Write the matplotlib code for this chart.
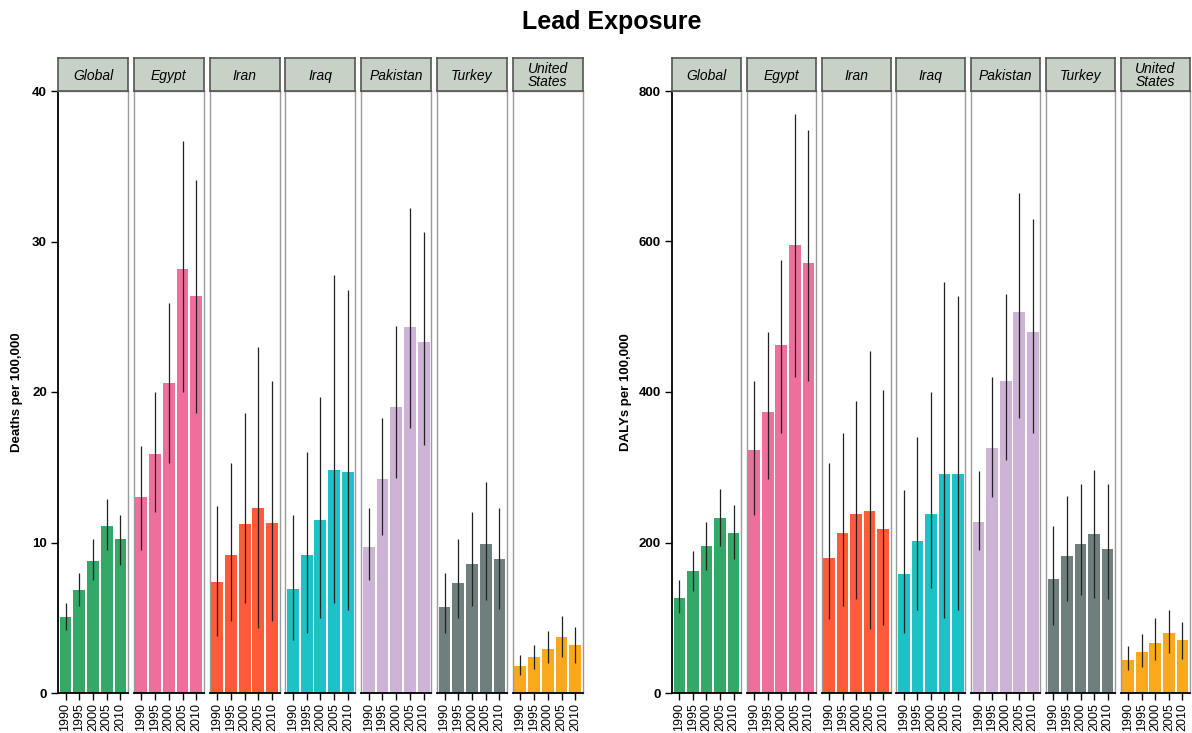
import numpy as np
import matplotlib
matplotlib.use("Agg")
import matplotlib.pyplot as plt

plt.rcParams['font.family'] = ['Liberation Sans', 'DejaVu Sans']

years = ['1990', '1995', '2000', '2005', '2010']
countries = ['Global', 'Egypt', 'Iran', 'Iraq', 'Pakistan', 'Turkey', 'United\nStates']
colors = ['#34A867', '#EE6E9C', '#FF5A3A', '#1CC2C6', '#CDB3D5', '#6F7F7E', '#FBA91C']

# deaths per 100,000: value, lower, upper
deaths = [
    [5.05, 6.85, 8.8, 11.1, 10.2],
    [13.0, 15.9, 20.6, 28.2, 26.4],
    [7.4, 9.2, 11.2, 12.3, 11.3],
    [6.9, 9.2, 11.5, 14.8, 14.7],
    [9.7, 14.2, 19.0, 24.3, 23.3],
    [5.7, 7.3, 8.6, 9.9, 8.9],
    [1.8, 2.4, 2.9, 3.7, 3.2],
]
deaths_lo = [
    [4.2, 5.8, 7.5, 9.5, 8.5],
    [9.5, 12.0, 15.3, 20.0, 18.6],
    [3.8, 4.8, 6.0, 4.3, 4.8],
    [3.5, 4.0, 5.0, 6.0, 5.5],
    [7.5, 10.5, 14.3, 17.6, 16.5],
    [4.0, 5.0, 5.8, 6.2, 5.6],
    [1.2, 1.6, 2.0, 2.4, 2.0],
]
deaths_hi = [
    [6.0, 8.0, 10.2, 12.9, 11.8],
    [16.4, 20.0, 25.9, 36.7, 34.1],
    [12.4, 15.3, 18.6, 23.0, 20.7],
    [11.8, 16.0, 19.7, 27.8, 26.8],
    [12.3, 18.3, 24.4, 32.2, 30.6],
    [8.0, 10.2, 12.0, 14.0, 12.3],
    [2.5, 3.2, 4.1, 5.1, 4.4],
]

# DALYs per 100,000
dalys = [
    [126, 162, 195, 233, 213],
    [323, 374, 462, 596, 572],
    [180, 212, 238, 242, 218],
    [158, 202, 238, 291, 291],
    [227, 326, 414, 506, 480],
    [151, 182, 198, 211, 192],
    [44, 55, 67, 80, 70],
]
dalys_lo = [
    [106, 136, 163, 195, 178],
    [237, 285, 345, 420, 415],
    [98, 115, 125, 85, 90],
    [80, 110, 140, 100, 110],
    [190, 260, 310, 365, 345],
    [90, 122, 130, 126, 125],
    [30, 35, 44, 53, 45],
]
dalys_hi = [
    [150, 189, 227, 271, 250],
    [415, 480, 575, 770, 748],
    [305, 345, 388, 455, 402],
    [270, 340, 400, 546, 528],
    [295, 420, 530, 665, 630],
    [222, 262, 278, 297, 278],
    [62, 78, 100, 110, 95],
]

W, H = 1192, 733
fig = plt.figure(figsize=(W / 100, H / 100), dpi=100)

bottom_px, top_px, strip_top = 693, 91, 58


def px_axes(x0, x1, y0, y1):
    return fig.add_axes([x0 / W, 1 - y1 / H, (x1 - x0) / W, (y1 - y0) / H])


def draw_panel(left0, step, width, vals, lo, hi, ymax, yticks, ylabel, ylabel_x):
    x = np.arange(len(years))
    for i, name in enumerate(countries):
        l = left0 + i * step
        ax = px_axes(l, l + width, top_px, bottom_px)
        v = np.array(vals[i])
        err = np.array([v - np.array(lo[i]), np.array(hi[i]) - v])
        ax.bar(x, v, width=0.86, color=colors[i], zorder=2)
        ax.errorbar(x, v, yerr=err, fmt='none', ecolor='#222222', elinewidth=0.9,
                    capsize=0, zorder=3)
        ax.set_xlim(-0.55, 4.55)
        ax.set_ylim(0, ymax)
        ax.set_xticks(x)
        ax.set_xticklabels(years, rotation=90, fontsize=9)
        ax.tick_params(axis='x', length=5, width=1, pad=2)
        for s in ['top', 'right', 'left']:
            ax.spines[s].set_color('#9a9a9a')
            ax.spines[s].set_linewidth(1.0)
        ax.spines['bottom'].set_color('black')
        ax.spines['bottom'].set_linewidth(1.3)
        if i == 0:
            ax.spines['left'].set_color('black')
            ax.spines['left'].set_linewidth(1.3)
            ax.set_yticks(yticks)
            ax.set_yticklabels([str(t) for t in yticks], fontsize=9.5, fontweight='bold')
            ax.tick_params(axis='y', length=5, width=1, pad=3)
        else:
            ax.set_yticks([])
        # facet strip
        sax = px_axes(l, l + width, strip_top, top_px)
        sax.set_xticks([])
        sax.set_yticks([])
        sax.set_facecolor('#C6D2C6')
        for s in sax.spines.values():
            s.set_color('#555555')
            s.set_linewidth(1.2)
        sax.text(0.5, 0.5, name, ha='center', va='center_baseline', fontsize=10,
                 style='italic', linespacing=0.95, transform=sax.transAxes)
    fig.text(ylabel_x / W, 1 - (top_px + bottom_px) / 2 / H, ylabel, rotation=90,
             ha='center', va='center', fontsize=9.5, fontweight='bold')


draw_panel(58, 75.8, 70, deaths, deaths_lo, deaths_hi, 40, [0, 10, 20, 30, 40],
           'Deaths per 100,000', 17)
draw_panel(672, 74.8, 69, dalys, dalys_lo, dalys_hi, 800, [0, 200, 400, 600, 800],
           'DALYs per 100,000', 626)

fig.text(612 / W, 1 - 22 / H, 'Lead Exposure', ha='center', va='center',
         fontsize=18, fontweight='bold')

fig.savefig('out.png', dpi=100)
